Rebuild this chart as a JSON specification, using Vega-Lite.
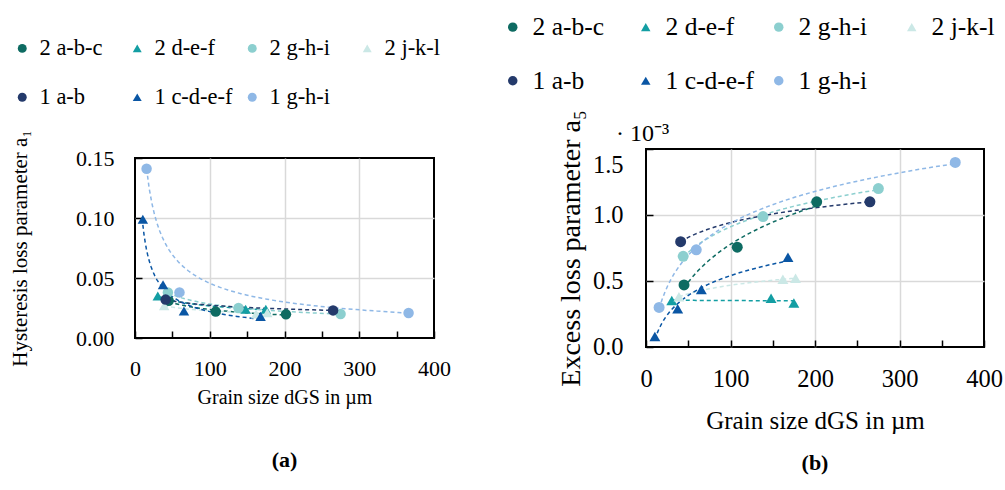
{
  "$schema": "https://vega.github.io/schema/vega-lite/v6.json",
  "padding": {"left": 8, "top": 13, "right": 0, "bottom": 0},
  "config": {
    "font": "Liberation Serif",
    "view": {"stroke": "black", "strokeWidth": 2},
    "axis": {"labelFont": "Liberation Serif", "titleFont": "Liberation Serif", "labelColor": "black", "titleColor": "black", "titleFontWeight": "normal", "tickColor": "black", "tickWidth": 1.5, "domain": false, "gridColor": "#d9d9d9", "gridWidth": 1.5, "labelFlush": false, "labelOverlap": false},
    "legend": {"labelColor": "black", "labelFont": "Liberation Serif"},
    "title": {"font": "Liberation Serif"}
  },
  "datasets": {
    "left": [
      {"series": "2 a-b-c", "x": 45, "y": 0.031},
      {"series": "2 a-b-c", "x": 108, "y": 0.022},
      {"series": "2 a-b-c", "x": 202, "y": 0.0197},
      {"series": "2 d-e-f", "x": 30.5, "y": 0.035},
      {"series": "2 d-e-f", "x": 148, "y": 0.024},
      {"series": "2 d-e-f", "x": 175, "y": 0.024},
      {"series": "2 g-h-i", "x": 44, "y": 0.038},
      {"series": "2 g-h-i", "x": 138.5, "y": 0.025},
      {"series": "2 g-h-i", "x": 275, "y": 0.020},
      {"series": "2 j-k-l", "x": 39, "y": 0.027},
      {"series": "2 j-k-l", "x": 162, "y": 0.020},
      {"series": "2 j-k-l", "x": 177, "y": 0.021},
      {"series": "1 a-b", "x": 41, "y": 0.032},
      {"series": "1 a-b", "x": 265, "y": 0.023},
      {"series": "1 c-d-e-f", "x": 10.5, "y": 0.099},
      {"series": "1 c-d-e-f", "x": 37.5, "y": 0.0444},
      {"series": "1 c-d-e-f", "x": 65.5, "y": 0.0225},
      {"series": "1 c-d-e-f", "x": 168, "y": 0.018},
      {"series": "1 g-h-i", "x": 15.5, "y": 0.141},
      {"series": "1 g-h-i", "x": 59.5, "y": 0.038},
      {"series": "1 g-h-i", "x": 366, "y": 0.0208}
    ],
    "right": [
      {"series": "2 a-b-c", "x": 45, "y": 0.47},
      {"series": "2 a-b-c", "x": 108, "y": 0.756},
      {"series": "2 a-b-c", "x": 202, "y": 1.10},
      {"series": "2 d-e-f", "x": 30.5, "y": 0.353},
      {"series": "2 d-e-f", "x": 148, "y": 0.37},
      {"series": "2 d-e-f", "x": 175, "y": 0.333},
      {"series": "2 g-h-i", "x": 44, "y": 0.687},
      {"series": "2 g-h-i", "x": 138.5, "y": 0.988},
      {"series": "2 g-h-i", "x": 275, "y": 1.20},
      {"series": "2 j-k-l", "x": 39, "y": 0.38},
      {"series": "2 j-k-l", "x": 162, "y": 0.514},
      {"series": "2 j-k-l", "x": 177, "y": 0.52},
      {"series": "1 a-b", "x": 41, "y": 0.798},
      {"series": "1 a-b", "x": 265, "y": 1.10},
      {"series": "1 c-d-e-f", "x": 10.5, "y": 0.08},
      {"series": "1 c-d-e-f", "x": 37.5, "y": 0.29},
      {"series": "1 c-d-e-f", "x": 65.5, "y": 0.435},
      {"series": "1 c-d-e-f", "x": 168, "y": 0.68},
      {"series": "1 g-h-i", "x": 15.5, "y": 0.30},
      {"series": "1 g-h-i", "x": 59.5, "y": 0.736},
      {"series": "1 g-h-i", "x": 366, "y": 1.398}
    ]
  },
  "title": {"text": "· 10⁻³", "anchor": "start", "frame": "group", "fontSize": 24, "fontWeight": "normal", "color": "black", "dx": 481, "dy": 137},
  "bounds": "flush",
  "center": true,
  "spacing": 212,
  "resolve": {"scale": {"color": "independent", "shape": "independent", "stroke": "independent"}, "legend": {"color": "independent", "shape": "independent"}},
  "hconcat": [
    {
      "data": {"name": "left"},
      "width": 299,
      "height": 180,
      "title": {"text": "(a)", "orient": "bottom", "frame": "group", "fontSize": 22, "fontWeight": "bold", "color": "black", "offset": 43},
      "encoding": {
        "x": {"field": "x", "type": "quantitative", "scale": {"domain": [0, 400], "nice": false},
          "axis": {"title": "Grain size dGS in µm", "values": [0, 50, 100, 150, 200, 250, 300, 350, 400], "format": "d",
            "labelExpr": "datum.value % 100 == 0 ? datum.label : ''",
            "gridOpacity": {"condition": {"test": "datum.value % 100 == 0 && datum.value > 0 && datum.value < 400", "value": 1}, "value": 0},
            "tickSize": -7, "labelPadding": 27, "labelFontSize": 22, "titleFontSize": 20, "titlePadding": 8}},
        "y": {"field": "y", "type": "quantitative", "scale": {"domain": [0, 0.15], "nice": false},
          "axis": {"title": "Hysteresis loss parameter a₁", "values": [0, 0.05, 0.1, 0.15], "format": ".2f",
            "gridOpacity": {"condition": {"test": "datum.value > 0.001 && datum.value < 0.149", "value": 1}, "value": 0},
            "tickSize": -7, "labelPadding": 28, "labelFontSize": 22, "titleFontSize": 21, "titlePadding": 45}}
      },
      "layer": [
        {
          "transform": [
            {"filter": "!(datum.series == '1 g-h-i' && datum.x > 50 && datum.x < 70)"},
            {"regression": "y", "on": "x", "groupby": ["series"], "method": "pow"}
          ],
          "mark": {"type": "line", "strokeDash": [4, 3], "strokeWidth": 1.5},
          "encoding": {
            "stroke": {"field": "series", "type": "nominal", "legend": null,
              "scale": {"domain": ["1 g-h-i", "1 c-d-e-f", "1 a-b", "2 j-k-l", "2 g-h-i", "2 d-e-f", "2 a-b-c"],
                "range": ["#8fb8e6", "#0a56a4", "#243a6b", "#cbe8e6", "#8ccfcf", "#139ea3", "#0e6b62"]}}
          }
        },
        {
          "mark": {"type": "point", "filled": true, "size": 110, "opacity": 1},
          "encoding": {
            "color": {"field": "series", "type": "nominal",
              "scale": {"domain": ["2 a-b-c", "2 d-e-f", "2 g-h-i", "2 j-k-l", "1 a-b", "1 c-d-e-f", "1 g-h-i"],
                "range": ["#0e6b62", "#139ea3", "#8ccfcf", "#cbe8e6", "#243a6b", "#0a56a4", "#8fb8e6"]},
              "legend": {"title": null, "orient": "none", "legendX": -124, "legendY": -121, "direction": "horizontal", "columns": 4, "gridAlign": "all", "columnPadding": 8, "rowPadding": 26, "labelFont": "Liberation Serif", "labelFontSize": 22.5, "symbolSize": 80, "labelOffset": 6, "symbolStrokeWidth": 0}},
            "shape": {"field": "series", "type": "nominal",
              "scale": {"domain": ["2 a-b-c", "2 d-e-f", "2 g-h-i", "2 j-k-l", "1 a-b", "1 c-d-e-f", "1 g-h-i"],
                "range": ["circle", "triangle-up", "circle", "triangle-up", "circle", "triangle-up", "circle"]},
              "legend": {"title": null, "orient": "none", "legendX": -124, "legendY": -121, "direction": "horizontal", "columns": 4, "gridAlign": "all", "columnPadding": 8, "rowPadding": 26, "labelFont": "Liberation Serif", "labelFontSize": 22.5, "symbolSize": 80, "labelOffset": 6, "symbolStrokeWidth": 0}}
          }
        }
      ]
    },
    {
      "data": {"name": "right"},
      "width": 338,
      "height": 198,
      "title": {"text": "(b)", "orient": "bottom", "frame": "group", "fontSize": 22, "fontWeight": "bold", "color": "black", "offset": 19},
      "encoding": {
        "x": {"field": "x", "type": "quantitative", "scale": {"domain": [0, 400], "nice": false},
          "axis": {"title": "Grain size dGS in µm", "values": [0, 50, 100, 150, 200, 250, 300, 350, 400], "format": "d",
            "labelExpr": "datum.value % 100 == 0 ? datum.label : ''",
            "gridOpacity": {"condition": {"test": "datum.value % 100 == 0 && datum.value > 0 && datum.value < 400", "value": 1}, "value": 0},
            "tickSize": -7, "labelPadding": 27, "labelFontSize": 24.5, "titleFontSize": 25, "titlePadding": 18}},
        "y": {"field": "y", "type": "quantitative", "scale": {"domain": [0, 1.5], "nice": false},
          "axis": {"title": "Excess loss parameter a₅", "values": [0, 0.5, 1, 1.5], "format": ".1f",
            "labelOffset": {"condition": {"test": "datum.value > 1.4", "value": 16}, "value": 0},
            "gridOpacity": {"condition": {"test": "datum.value > 0.01 && datum.value < 1.49", "value": 1}, "value": 0},
            "tickSize": -7, "labelPadding": 30, "labelFontSize": 24.5, "titleFontSize": 28, "titlePadding": 7}}
      },
      "layer": [
        {
          "transform": [{"regression": "y", "on": "x", "groupby": ["series"], "method": "log"}],
          "mark": {"type": "line", "strokeDash": [4, 3], "strokeWidth": 1.5},
          "encoding": {
            "stroke": {"field": "series", "type": "nominal", "legend": null,
              "scale": {"domain": ["1 g-h-i", "1 c-d-e-f", "1 a-b", "2 j-k-l", "2 g-h-i", "2 d-e-f", "2 a-b-c"],
                "range": ["#8fb8e6", "#0a56a4", "#243a6b", "#cbe8e6", "#8ccfcf", "#139ea3", "#0e6b62"]}}
          }
        },
        {
          "mark": {"type": "point", "filled": true, "size": 120, "opacity": 1},
          "encoding": {
            "color": {"field": "series", "type": "nominal",
              "scale": {"domain": ["2 a-b-c", "2 d-e-f", "2 g-h-i", "2 j-k-l", "1 a-b", "1 c-d-e-f", "1 g-h-i"],
                "range": ["#0e6b62", "#139ea3", "#8ccfcf", "#cbe8e6", "#243a6b", "#0a56a4", "#8fb8e6"]},
              "legend": {"title": null, "orient": "none", "legendX": -146, "legendY": -135, "direction": "horizontal", "columns": 4, "gridAlign": "all", "columnPadding": 12, "rowPadding": 27, "labelFont": "Liberation Serif", "labelFontSize": 25.5, "symbolSize": 90, "labelOffset": 7, "symbolStrokeWidth": 0}},
            "shape": {"field": "series", "type": "nominal",
              "scale": {"domain": ["2 a-b-c", "2 d-e-f", "2 g-h-i", "2 j-k-l", "1 a-b", "1 c-d-e-f", "1 g-h-i"],
                "range": ["circle", "triangle-up", "circle", "triangle-up", "circle", "triangle-up", "circle"]},
              "legend": {"title": null, "orient": "none", "legendX": -146, "legendY": -135, "direction": "horizontal", "columns": 4, "gridAlign": "all", "columnPadding": 12, "rowPadding": 27, "labelFont": "Liberation Serif", "labelFontSize": 25.5, "symbolSize": 90, "labelOffset": 7, "symbolStrokeWidth": 0}}
          }
        }
      ]
    }
  ]
}
